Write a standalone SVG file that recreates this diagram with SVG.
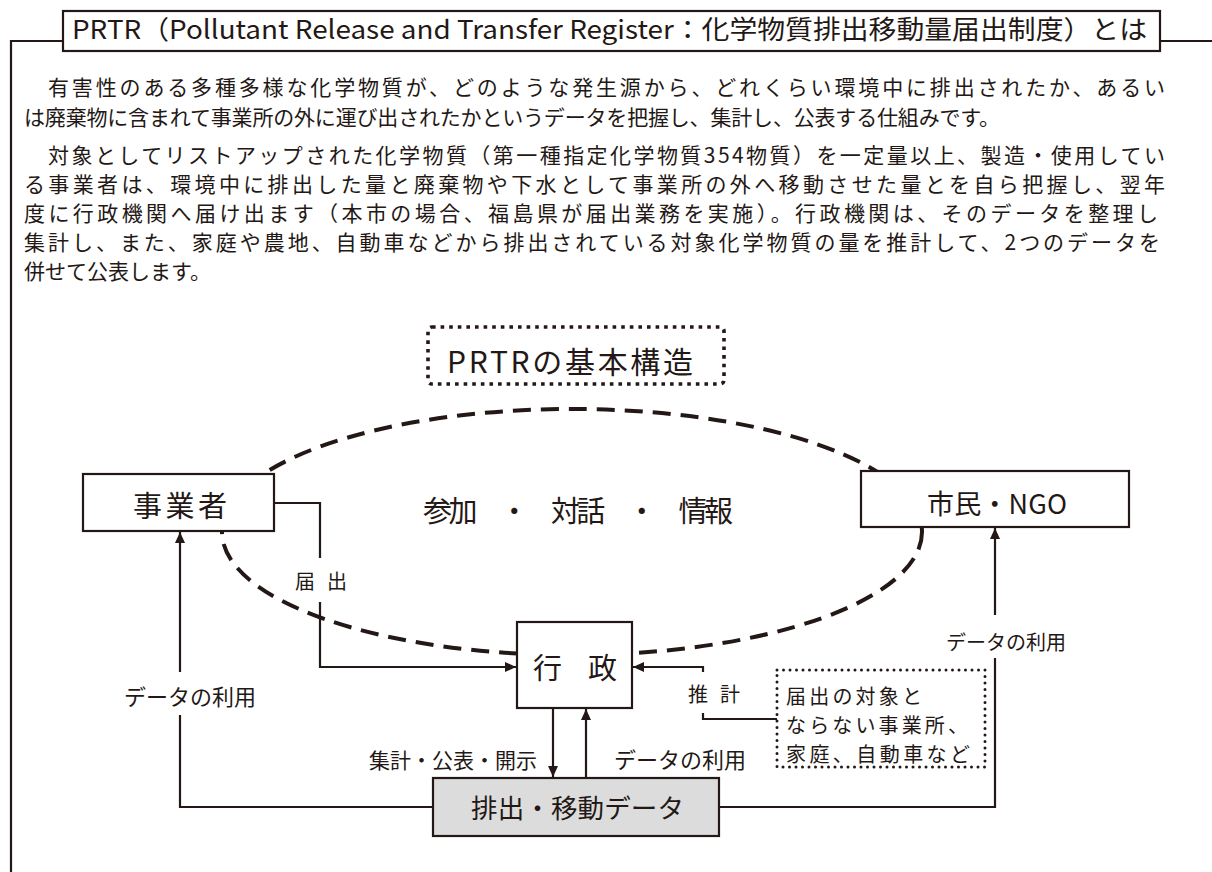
<svg xmlns="http://www.w3.org/2000/svg" width="1212" height="872" viewBox="0 0 1212 872">
<defs>
<style>
text { font-family: "Noto Sans CJK JP", "Noto Sans", sans-serif; fill: #231815; }
.box { fill: #ffffff; stroke: #231815; stroke-width: 2.2; }
.gray { fill: #dcdcdc; stroke: #231815; stroke-width: 2.2; }
.ln { fill: none; stroke: #231815; stroke-width: 2.2; }
.dash { fill: none; stroke: #231815; stroke-width: 4; stroke-dasharray: 18 10; }
.dot { fill: #ffffff; stroke: #231815; stroke-width: 3; stroke-dasharray: 0 6.5; stroke-linecap: round; }
.dot2 { fill: #ffffff; stroke: #231815; stroke-width: 3.6; stroke-dasharray: 3.6 5; }
.p { font-size: 21px; }
.src { font-size: 20px; }
</style>
<marker id="ah" markerUnits="userSpaceOnUse" markerWidth="12" markerHeight="10" refX="11" refY="5" orient="auto">
<path d="M0,0 L11,5 L0,10 z" fill="#231815"/>
</marker>
</defs>
<rect width="1212" height="872" fill="#ffffff"/>

<g id="frame">
<path class="ln" d="M63,41 H11 V872"/>
<path class="ln" d="M1160,41 H1212"/>
<rect class="box" x="63" y="11" width="1097" height="40"/>
<text x="72" y="39" font-size="26" textLength="1075" lengthAdjust="spacingAndGlyphs">PRTR（Pollutant Release and Transfer Register：化学物質排出移動量届出制度）とは</text>
</g>

<g id="description" class="p">
<text x="48" y="95" textLength="1117" lengthAdjust="spacing">有害性のある多種多様な化学物質が、どのような発生源から、どれくらい環境中に排出されたか、あるい</text>
<text x="24" y="125" textLength="976" lengthAdjust="spacing">は廃棄物に含まれて事業所の外に運び出されたかというデータを把握し、集計し、公表する仕組みです。</text>
<text x="48" y="163" textLength="1117" lengthAdjust="spacing">対象としてリストアップされた化学物質（第一種指定化学物質354物質）を一定量以上、製造・使用してい</text>
<text x="24" y="192" textLength="1141" lengthAdjust="spacing">る事業者は、環境中に排出した量と廃棄物や下水として事業所の外へ移動させた量とを自ら把握し、翌年</text>
<text x="24" y="221" textLength="1134" lengthAdjust="spacing">度に行政機関へ届け出ます（本市の場合、福島県が届出業務を実施）。行政機関は、そのデータを整理し</text>
<text x="24" y="250" textLength="1136" lengthAdjust="spacing">集計し、また、家庭や農地、自動車などから排出されている対象化学物質の量を推計して、2つのデータを</text>
<text x="24" y="279">併せて公表します。</text>
</g>

<g id="heading">
<rect class="dot2" x="428" y="327" width="296" height="57" rx="4"/>
<text x="447" y="373" font-size="30" textLength="246" lengthAdjust="spacing">PRTRの基本構造</text>
</g>

<g id="cycle">
<ellipse class="dash" cx="572" cy="532" rx="350" ry="123"/>
<text x="423" y="522" font-size="29" textLength="310" lengthAdjust="spacing">参加　・　対話　・　情報</text>
</g>

<g id="connectors">
<path class="ln" d="M274,503 H320 V558 M320,602 V667 H516" marker-end="url(#ah)"/>
<path class="ln" d="M703,672 V667 H633" marker-end="url(#ah)"/>
<path class="ln" d="M703,713 V719 H777"/>
<path class="ln" d="M553,708 V777" marker-end="url(#ah)"/>
<path class="ln" d="M586,777 V709" marker-end="url(#ah)"/>
<path class="ln" d="M433,807 H180 V715 M180,672 V532" marker-end="url(#ah)"/>
<path class="ln" d="M719,807 H995 V658 M995,615 V528" marker-end="url(#ah)"/>
<text x="295" y="589" font-size="20" textLength="52" lengthAdjust="spacing">届 出</text>
<text x="688" y="702" font-size="20" textLength="52" lengthAdjust="spacing">推 計</text>
<text x="124" y="705" font-size="22">データの利用</text>
<text x="946" y="650" font-size="20">データの利用</text>
<text x="369" y="768" font-size="21">集計・公表・開示</text>
<text x="614" y="768" font-size="22">データの利用</text>
</g>

<g id="node-jigyosha">
<rect class="box" x="83" y="474" width="191" height="57"/>
<text x="133" y="517" font-size="29" textLength="94" lengthAdjust="spacing">事業者</text>
</g>

<g id="node-shimin">
<rect class="box" x="861" y="471" width="268" height="56"/>
<text x="927" y="514" font-size="27" textLength="140" lengthAdjust="spacing">市民・NGO</text>
</g>

<g id="node-gyosei">
<rect class="box" x="517" y="622" width="115" height="86"/>
<text x="533" y="679" font-size="29" textLength="84" lengthAdjust="spacing">行　政</text>
</g>

<g id="node-sources">
<rect class="dot" x="777" y="670" width="208" height="97"/>
<text class="src" x="786" y="704" textLength="136" lengthAdjust="spacing">届出の対象と</text>
<text class="src" x="786" y="733" textLength="182" lengthAdjust="spacing">ならない事業所、</text>
<text class="src" x="786" y="762" textLength="184" lengthAdjust="spacing">家庭、自動車など</text>
</g>

<g id="node-data">
<rect class="gray" x="433" y="778" width="286" height="58"/>
<text x="471" y="818" font-size="26.5" textLength="213" lengthAdjust="spacing">排出・移動データ</text>
</g>
</svg>
